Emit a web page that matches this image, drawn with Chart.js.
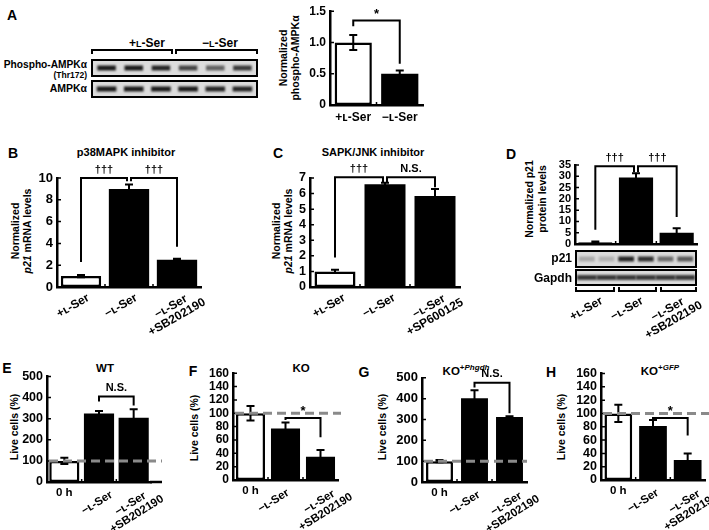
<!DOCTYPE html>
<html>
<head>
<meta charset="utf-8">
<script src="https://cdn.jsdelivr.net/npm/chart.js@4.4.0/dist/chart.umd.min.js"></script>
<style>
body { margin: 0; width: 709px; height: 530px; position: relative; overflow: hidden; background: #fff;
       font-family: "Liberation Sans", Arial, "DejaVu Sans", sans-serif; font-weight: bold; color: #000; }
canvas { position: absolute; }
.lt { position: absolute; font-size: 14px; transform: translate(-50%, -50%); }
.ttl { position: absolute; font-size: 11px; white-space: nowrap; transform: translate(-50%, -50%); }
.yt { position: absolute; font-size: 10.5px; line-height: 12px; white-space: nowrap; text-align: center;
      transform: translate(-50%, -50%) rotate(-90deg); }
.bl { position: absolute; white-space: nowrap; text-align: right; transform: translateY(-50%); }
.brk { position: absolute; border: 2px solid #000; box-sizing: border-box; }
.sc { font-size: 75%; }
sup { font-size: 8px; }
</style>
</head>
<body>

<!-- panel letters -->
<div class="lt" style="left:12px;top:15px">A</div>
<div class="lt" style="left:13px;top:153px">B</div>
<div class="lt" style="left:278px;top:153px">C</div>
<div class="lt" style="left:511px;top:154px">D</div>
<div class="lt" style="left:7px;top:368px">E</div>
<div class="lt" style="left:193px;top:371px">F</div>
<div class="lt" style="left:364px;top:372px">G</div>
<div class="lt" style="left:551px;top:372px">H</div>

<!-- titles -->
<div class="ttl" style="left:126px;top:152px">p38MAPK inhibitor</div>
<div class="ttl" style="left:373px;top:152px">SAPK/JNK inhibitor</div>
<div class="ttl" style="left:105px;top:368px;font-size:11.5px">WT</div>
<div class="ttl" style="left:301px;top:368px;font-size:11.5px">KO</div>
<div class="ttl" style="left:466px;top:370px;font-size:11.5px">KO<sup>+<i>Phgdh</i></sup></div>
<div class="ttl" style="left:660px;top:370px;font-size:11.5px">KO<sup>+<i>GFP</i></sup></div>

<!-- y axis titles -->
<div class="yt" style="left:289px;top:58px">Normalized<br>phospho-AMPKα</div>
<div class="yt" style="left:21px;top:231px">Normalized<br><i>p21</i> mRNA levels</div>
<div class="yt" style="left:282px;top:231px">Normalized<br><i>p21</i> mRNA levels</div>
<div class="yt" style="left:536px;top:199px;line-height:13px">Normalized p21<br>protein levels</div>
<div class="yt" style="left:14px;top:427px">Live cells (%)</div>
<div class="yt" style="left:194px;top:428px">Live cells (%)</div>
<div class="yt" style="left:382px;top:427px">Live cells (%)</div>
<div class="yt" style="left:561px;top:427px">Live cells (%)</div>

<!-- blot A -->
<div class="ttl" style="left:147px;top:43px;font-size:12px">+<span class="sc">L</span>-Ser</div>
<div class="ttl" style="left:220px;top:43px;font-size:12px">−<span class="sc">L</span>-Ser</div>
<div class="brk" style="left:91px;top:49px;width:82px;height:5px;border-bottom:none"></div>
<div class="brk" style="left:175px;top:49px;width:83px;height:5px;border-bottom:none"></div>
<div class="bl" style="right:622px;top:64px;font-size:10.2px">Phospho-AMPKα</div>
<div class="bl" style="right:622px;top:75px;font-size:8.5px">(Thr172)</div>
<div class="bl" style="right:622px;top:88px;font-size:10.5px">AMPKα</div>
<canvas id="blot-phospho"></canvas>
<canvas id="blot-ampk"></canvas>

<!-- charts -->
<canvas id="chart-a"></canvas>
<canvas id="chart-b"></canvas>
<canvas id="chart-c"></canvas>
<canvas id="chart-d"></canvas>
<canvas id="chart-e"></canvas>
<canvas id="chart-f"></canvas>
<canvas id="chart-g"></canvas>
<canvas id="chart-h"></canvas>

<!-- blot D -->
<canvas id="blot-p21"></canvas>
<canvas id="blot-gapdh"></canvas>
<div class="bl" style="right:137px;top:258px;font-size:12px">p21</div>
<div class="bl" style="right:137px;top:278px;font-size:12px">Gapdh</div>
<div class="brk" style="left:575px;top:287px;width:40px;height:5px;border-top:none"></div>
<div class="brk" style="left:618px;top:287px;width:39px;height:5px;border-top:none"></div>
<div class="brk" style="left:660px;top:287px;width:37px;height:5px;border-top:none"></div>

<script>
// A: phospho-AMPK
const aLabels = ['+ʟ-Ser', '−ʟ-Ser']
const aValues = [1.0, 0.5]
const aErrors = [0.12, 0.05]

// B: p38MAPK inhibitor
const bLabels = ['+ʟ-Ser', '−ʟ-Ser', '−ʟ-Ser\n+SB202190']
const bValues = [1.0, 9.0, 2.5]
const bErrors = [0.1, 0.4, 0.1]

// C: SAPK/JNK inhibitor
const cLabels = ['+ʟ-Ser', '−ʟ-Ser', '−ʟ-Ser\n+SP600125']
const cValues = [1.0, 6.6, 5.85]
const cErrors = [0.1, 0.1, 0.45]

// D: p21 protein
const dLabels = ['+ʟ-Ser', '−ʟ-Ser', '−ʟ-Ser\n+SB202190']
const dValues = [0.8, 29.5, 5.0]
const dErrors = [0.3, 1.8, 2.0]

// E-H: live cells
const liveLabels = ['0 h', '−ʟ-Ser', '−ʟ-Ser\n+SB202190']
const eValues = [100, 325, 305]
const eErrors = [15, 12, 40]
const fValues = [100, 77, 35]
const fErrors = [11, 9, 10]
const gValues = [100, 402, 312]
const gErrors = [5, 38, 4]
const hValues = [100, 81, 30]
const hErrors = [13, 9, 10]

// significance brackets: [from, to, top, left end, right end, text]
const aBrackets = [[0, 1, 1.35, 1.26, 0.66, '*']]
const bBrackets = [[0, 1, 10, 2.3, 9.7, '†††'], [1, 2, 10, 9.7, 3.7, '†††']]
const cBrackets = [[0, 1, 7.05, 1.9, 6.75, '†††'], [1, 2, 7.05, 6.75, 6.4, 'N.S.']]
const dBrackets = [[0, 1, 34.5, 6.3, 31.8, '†††'], [1, 2, 34.5, 31.8, 12, '†††']]
const eBrackets = [[1, 2, 405, 382, 363, 'N.S.']]
const fBrackets = [[1, 2, 93, 90, 64, '*']]
const gBrackets = [[1, 2, 476, 453, 330, 'N.S.']]
const hBrackets = [[1, 2, 93, 90, 67, '*']]

// blot band intensities per lane
const phosphoBands = [0.95, 0.95, 0.9, 0.75, 0.6, 0.8]
const ampkBands = [0.95, 0.95, 0.95, 0.95, 0.9, 0.9]
const p21Bands = [0.25, 0.2, 0.9, 0.85, 0.55, 0.65]
const gapdhBands = [0.8, 0.8, 0.8, 0.8, 0.8, 0.8]

const FONT = '"Liberation Sans", Arial, "DejaVu Sans", sans-serif'

function drawBlot(id, left, top, w, h, bands, spread) {
    let cv = document.getElementById(id)
    cv.width = w
    cv.height = h
    cv.style.left = left + 'px'
    cv.style.top = top + 'px'
    let ctx = cv.getContext('2d')
    ctx.fillStyle = '#dcdcdc'
    ctx.fillRect(0, 0, w, h)
    let lane = (w - 4) / bands.length
    ctx.filter = 'blur(1.2px)'
    bands.forEach((b, i) => {
        ctx.fillStyle = 'rgba(15, 15, 15, ' + b + ')'
        ctx.fillRect(2 + i * lane + lane * (1 - spread) / 2, h / 2 - 2.5, lane * spread, 5)
    })
    ctx.filter = 'none'
    ctx.strokeStyle = '#000'
    ctx.lineWidth = 2
    ctx.strokeRect(1, 1, w - 2, h - 2)
}

drawBlot('blot-phospho', 91, 59, 167, 18, phosphoBands, 0.68)
drawBlot('blot-ampk', 91, 80, 167, 18, ampkBands, 0.72)
drawBlot('blot-p21', 575, 250, 122, 18, p21Bands, 0.8)
drawBlot('blot-gapdh', 575, 269, 122, 17, gapdhBands, 1.0)

const extras = {
    id: 'extras',
    afterDatasetsDraw(chart, args, o) {
        let ctx = chart.ctx
        let xs = chart.scales.x
        let ys = chart.scales.y
        let area = chart.chartArea
        let vals = chart.data.datasets[0].data
        ctx.save()
        ctx.strokeStyle = '#000'
        ctx.fillStyle = '#000'

        // axis extension
        if (o.extendTo) {
            ctx.lineWidth = 2.5
            ctx.beginPath()
            ctx.moveTo(area.right - 1, area.bottom)
            ctx.lineTo(o.extendTo - chart.canvas.offsetLeft, area.bottom)
            ctx.stroke()
        }

        // small inside ticks
        ctx.lineWidth = 1.5
        ctx.beginPath()
        ys.ticks.forEach(t => {
            let y = ys.getPixelForValue(t.value)
            ctx.moveTo(area.left, y)
            ctx.lineTo(area.left + 4, y)
        })
        for (let i = 1; i < chart.data.labels.length; i++) {
            let x = (xs.getPixelForValue(i - 1) + xs.getPixelForValue(i)) / 2
            ctx.moveTo(x, area.bottom)
            ctx.lineTo(x, area.bottom - 3)
        }
        ctx.stroke()

        // error bars
        ctx.lineWidth = 2
        o.errors.forEach((e, i) => {
            let cx = xs.getPixelForValue(i)
            let t = ys.getPixelForValue(vals[i] + e)
            let b = ys.getPixelForValue(Math.max(vals[i] - e, 0))
            ctx.beginPath()
            ctx.moveTo(cx, t)
            ctx.lineTo(cx, b)
            ctx.moveTo(cx - 4, t)
            ctx.lineTo(cx + 4, t)
            ctx.moveTo(cx - 4, b)
            ctx.lineTo(cx + 4, b)
            ctx.stroke()
        })

        // reference line
        if (o.ref != null) {
            let y = ys.getPixelForValue(o.ref)
            ctx.save()
            ctx.strokeStyle = '#8a8a8a'
            ctx.lineWidth = 3
            ctx.setLineDash([9, 5])
            ctx.beginPath()
            ctx.moveTo(area.left + 2, y)
            ctx.lineTo(o.refTo - chart.canvas.offsetLeft, y)
            ctx.stroke()
            ctx.restore()
        }

        // brackets
        let used = {}
        o.brackets.forEach(b => {
            used[b[0]] = (used[b[0]] || 0) + 1
            used[b[1]] = (used[b[1]] || 0) + 1
        })
        ctx.lineWidth = 2
        o.brackets.forEach(b => {
            let xa = xs.getPixelForValue(b[0]) + (used[b[0]] > 1 ? 2 : 0)
            let xb = xs.getPixelForValue(b[1]) - (used[b[1]] > 1 ? 2 : 0)
            let yt = ys.getPixelForValue(b[2])
            ctx.beginPath()
            ctx.moveTo(xa, ys.getPixelForValue(b[3]))
            ctx.lineTo(xa, yt)
            ctx.lineTo(xb, yt)
            ctx.lineTo(xb, ys.getPixelForValue(b[4]))
            ctx.stroke()
            ctx.font = 'bold ' + (b[5] === '*' ? 13 : 11) + 'px ' + FONT
            ctx.textAlign = 'center'
            ctx.textBaseline = 'bottom'
            ctx.fillText(b[5], (xa + xb) / 2, yt - (b[5] === '*' ? 0 : 3))
        })

        // category labels
        ctx.font = 'bold ' + o.labelSize + 'px ' + FONT
        ctx.textAlign = 'center'
        ctx.textBaseline = 'middle'
        chart.data.labels.forEach((lab, i) => {
            let lines = lab.split('\n')
            let cx = xs.getPixelForValue(i)
            if (o.angle === 0 || (o.flatFirst && i === 0)) {
                ctx.fillText(lab, cx, area.bottom + o.flatDy)
                return
            }
            let dx = lines.length > 1 ? o.blockDx : o.labelDx
            ctx.save()
            ctx.translate(cx + dx, area.bottom + o.labelDy + (lines.length - 1) * 6)
            ctx.rotate(-o.angle * Math.PI / 180)
            lines.forEach((ln, j) => {
                ctx.fillText(ln, 0, (j - (lines.length - 1) / 2) * 12)
            })
            ctx.restore()
        })
        ctx.restore()
    }
}

function barChart(id, box, area, labels, values, yAxis, barPct, ex) {
    let cv = document.getElementById(id)
    cv.width = box[2]
    cv.height = box[3]
    cv.style.left = box[0] + 'px'
    cv.style.top = box[1] + 'px'

    return new Chart(cv, {
        type: 'bar',
        data: {
            labels: labels,
            datasets: [
                {
                    data: values,
                    backgroundColor: values.map((v, i) => i === 0 ? '#ffffff' : '#000000'),
                    borderColor: '#000000',
                    borderWidth: values.map((v, i) => i === 0 ? 2.5 : 0),
                    borderSkipped: false,
                    barPercentage: barPct,
                    categoryPercentage: 1
                }
            ]
        },
        options: {
            responsive: false,
            animation: false,
            layout: {
                padding: { top: area[2] - box[1], right: box[0] + box[2] - area[1], left: 0, bottom: 0 }
            },
            scales: {
                x: {
                    ticks: { display: false },
                    grid: { display: false, drawTicks: false },
                    border: { display: true, color: '#000', width: 2.5 },
                    afterFit: s => { s.height = box[1] + box[3] - area[3] }
                },
                y: {
                    min: 0,
                    max: yAxis.max,
                    ticks: {
                        stepSize: yAxis.step,
                        autoSkip: false,
                        color: '#000',
                        padding: 4,
                        font: { family: FONT, weight: 'bold', size: yAxis.size },
                        callback: yAxis.fmt || (v => v)
                    },
                    grid: { display: false, drawTicks: false },
                    border: { display: true, color: '#000', width: 2.5 },
                    afterFit: s => { s.width = area[0] - box[0] }
                }
            },
            plugins: {
                legend: { display: false },
                tooltip: { enabled: false },
                extras: Object.assign({ labelSize: 12, labelDx: 0, blockDx: 0, labelDy: 19, flatDy: 12, angle: 30 }, ex)
            }
        },
        plugins: [extras]
    })
}

// box = [left, top, width, height], area = [left, right, top, bottom] in page pixels
barChart('chart-a', [290, 0, 140, 130], [330, 423, 7, 105], aLabels, aValues,
    { max: 1.5, step: 0.5, size: 12, fmt: v => v === 0 ? '0' : v.toFixed(1) }, 0.8,
    { errors: aErrors, brackets: aBrackets, angle: 0, flatDy: 13 })

barChart('chart-b', [20, 158, 200, 182], [57, 201, 178, 287], bLabels, bValues,
    { max: 10, step: 2, size: 13 }, 0.84,
    { errors: bErrors, brackets: bBrackets, labelDx: -8, blockDx: -3, labelDy: 19 })

barChart('chart-c', [280, 158, 195, 182], [310, 460, 178, 287], cLabels, cValues,
    { max: 7, step: 1, size: 12.5 }, 0.82,
    { errors: cErrors, brackets: cBrackets, labelDx: -6, blockDx: -3, labelDy: 19 })

barChart('chart-d', [545, 148, 164, 192], [575, 697, 165, 244], dLabels, dValues,
    { max: 35, step: 5, size: 11 }, 0.84,
    { errors: dErrors, brackets: dBrackets, labelDx: -9, blockDx: -6, labelDy: 65 })

barChart('chart-e', [10, 365, 175, 165], [47, 151, 374, 482], liveLabels, eValues,
    { max: 500, step: 100, size: 12.5 }, 0.87,
    { errors: eErrors, brackets: eBrackets, ref: 100, refTo: 162, extendTo: 162, flatFirst: true, labelSize: 11.5, labelDx: -2, labelDy: 21, flatDy: 11, angle: 32 })

barChart('chart-f', [196, 362, 172, 168], [233, 338, 372, 480], liveLabels, fValues,
    { max: 160, step: 20, size: 12 }, 0.83,
    { errors: fErrors, brackets: fBrackets, ref: 100, refTo: 341, flatFirst: true, labelSize: 11.5, labelDx: -12, blockDx: 2, labelDy: 21, flatDy: 11, angle: 32 })

barChart('chart-g', [386, 366, 165, 164], [422, 527, 376, 482], liveLabels, gValues,
    { max: 500, step: 100, size: 13 }, 0.77,
    { errors: gErrors, brackets: gBrackets, ref: 100, refTo: 527, flatFirst: true, labelSize: 11.5, labelDx: -10, blockDx: 0, labelDy: 21, flatDy: 11, angle: 32 })

barChart('chart-h', [564, 362, 145, 168], [601, 705, 372, 480], liveLabels, hValues,
    { max: 160, step: 20, size: 12.5 }, 0.8,
    { errors: hErrors, brackets: hBrackets, ref: 100, refTo: 709, flatFirst: true, labelSize: 11.5, labelDx: -10, blockDx: 0, labelDy: 21, flatDy: 11, angle: 32 })
</script>
</body>
</html>
